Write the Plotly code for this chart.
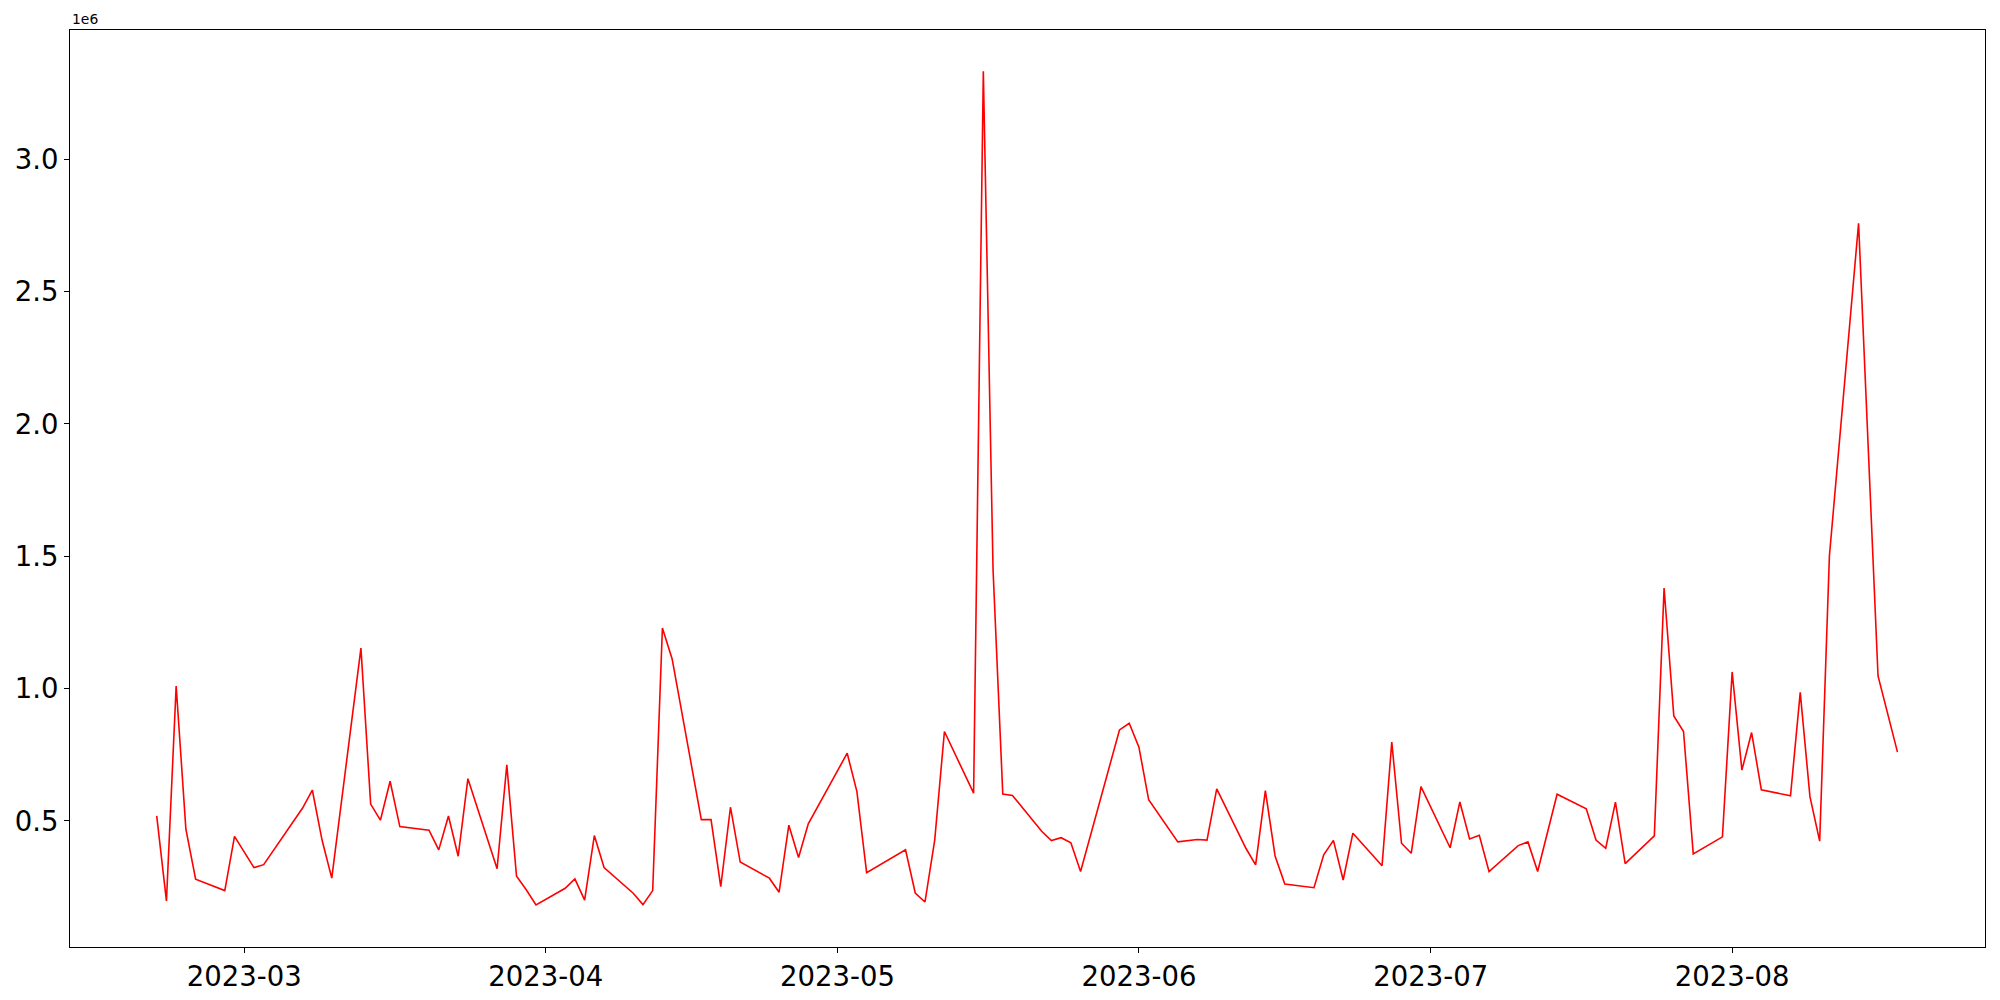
import plotly.graph_objects as go

dates = [
    "2023-02-20", "2023-02-21", "2023-02-22", "2023-02-23", "2023-02-24",
    "2023-02-27", "2023-02-28", "2023-03-02", "2023-03-03", "2023-03-07",
    "2023-03-08", "2023-03-09", "2023-03-10", "2023-03-13", "2023-03-14",
    "2023-03-15", "2023-03-16", "2023-03-17", "2023-03-20", "2023-03-21",
    "2023-03-22", "2023-03-23", "2023-03-24", "2023-03-27", "2023-03-28",
    "2023-03-29", "2023-03-30", "2023-03-31", "2023-04-03", "2023-04-04",
    "2023-04-05", "2023-04-06", "2023-04-07", "2023-04-10", "2023-04-11",
    "2023-04-12", "2023-04-13", "2023-04-14", "2023-04-17", "2023-04-18",
    "2023-04-19", "2023-04-20", "2023-04-21", "2023-04-24", "2023-04-25",
    "2023-04-26", "2023-04-27", "2023-04-28", "2023-05-02", "2023-05-03",
    "2023-05-04", "2023-05-08", "2023-05-09", "2023-05-10", "2023-05-11",
    "2023-05-12", "2023-05-15", "2023-05-16", "2023-05-17", "2023-05-18",
    "2023-05-19", "2023-05-22", "2023-05-23", "2023-05-24", "2023-05-25",
    "2023-05-26", "2023-05-30", "2023-05-31", "2023-06-01", "2023-06-02",
    "2023-06-05", "2023-06-07", "2023-06-08", "2023-06-09", "2023-06-12",
    "2023-06-13", "2023-06-14", "2023-06-15", "2023-06-16", "2023-06-19",
    "2023-06-20", "2023-06-21", "2023-06-22", "2023-06-23", "2023-06-26",
    "2023-06-27", "2023-06-28", "2023-06-29", "2023-06-30", "2023-07-03",
    "2023-07-04", "2023-07-05", "2023-07-06", "2023-07-07", "2023-07-10",
    "2023-07-11", "2023-07-12", "2023-07-14", "2023-07-17", "2023-07-18",
    "2023-07-19", "2023-07-20", "2023-07-21", "2023-07-24", "2023-07-25",
    "2023-07-26", "2023-07-27", "2023-07-28", "2023-07-31", "2023-08-01",
    "2023-08-02", "2023-08-03", "2023-08-04", "2023-08-07", "2023-08-08",
    "2023-08-09", "2023-08-10", "2023-08-11", "2023-08-14", "2023-08-16",
    "2023-08-18",
]

volume = [
    519000, 198000, 1010000, 469000, 280000,
    237000, 442000, 324000, 335000, 549000,
    617000, 428000, 284000, 1153000, 564000,
    503000, 650000, 479000, 465000, 391000,
    519000, 367000, 660000, 320000, 712000,
    291000, 240000, 183000, 246000, 281000,
    201000, 445000, 324000, 227000, 184000,
    237000, 1229000, 1112000, 505000, 505000,
    252000, 552000, 345000, 284000, 231000,
    484000, 362000, 489000, 756000, 611000,
    305000, 391000, 228000, 194000, 428000,
    838000, 605000, 3332000, 1448000, 602000,
    596000, 461000, 426000, 437000, 418000,
    309000, 844000, 869000, 779000, 580000,
    421000, 430000, 428000, 621000, 397000,
    334000, 615000, 368000, 262000, 248000,
    372000, 427000, 277000, 454000, 331000,
    798000, 416000, 378000, 630000, 399000,
    572000, 432000, 446000, 309000, 407000,
    421000, 309000, 601000, 546000, 428000,
    397000, 571000, 339000, 444000, 1380000,
    897000, 838000, 376000, 440000, 1063000,
    692000, 834000, 618000, 595000, 986000,
    592000, 424000, 1501000, 2758000, 1048000,
    760000,
]

x_tick_vals = ["2023-03-01", "2023-04-01", "2023-05-01", "2023-06-01", "2023-07-01", "2023-08-01"]
x_tick_text = ["2023-03", "2023-04", "2023-05", "2023-06", "2023-07", "2023-08"]
y_tick_vals = [500000, 1000000, 1500000, 2000000, 2500000, 3000000]
y_tick_text = ["0.5", "1.0", "1.5", "2.0", "2.5", "3.0"]

fig = go.Figure()
fig.add_trace(go.Scatter(x=dates, y=volume, mode="lines",
                         line=dict(color="red", width=1.6), showlegend=False))

axis_common = dict(showgrid=False, zeroline=False, showline=True, linecolor="black",
                   linewidth=1.2, mirror=True, ticks="outside", ticklen=5, tickwidth=1,
                   tickcolor="black", automargin=False,
                   tickfont=dict(size=27.5, color="black", family="DejaVu Sans"))

fig.update_xaxes(type="date", range=["2023-02-11 02:00", "2023-08-27 00:00"],
                 tickmode="array", tickvals=x_tick_vals, ticktext=x_tick_text, **axis_common)
fig.update_yaxes(range=[24000, 3488000], tickmode="array", tickvals=y_tick_vals,
                 ticktext=y_tick_text, **axis_common)

fig.add_annotation(text="1e6", xref="paper", yref="paper", x=0, y=1, xanchor="left",
                   yanchor="bottom", showarrow=False, yshift=1,
                   font=dict(size=13.9, color="black", family="DejaVu Sans"))

fig.update_layout(width=1984, height=984, plot_bgcolor="white", paper_bgcolor="white",
                  margin=dict(l=62, r=7, t=22, b=45, autoexpand=False),
                  font=dict(family="DejaVu Sans"))

fig.write_html("out.html")
